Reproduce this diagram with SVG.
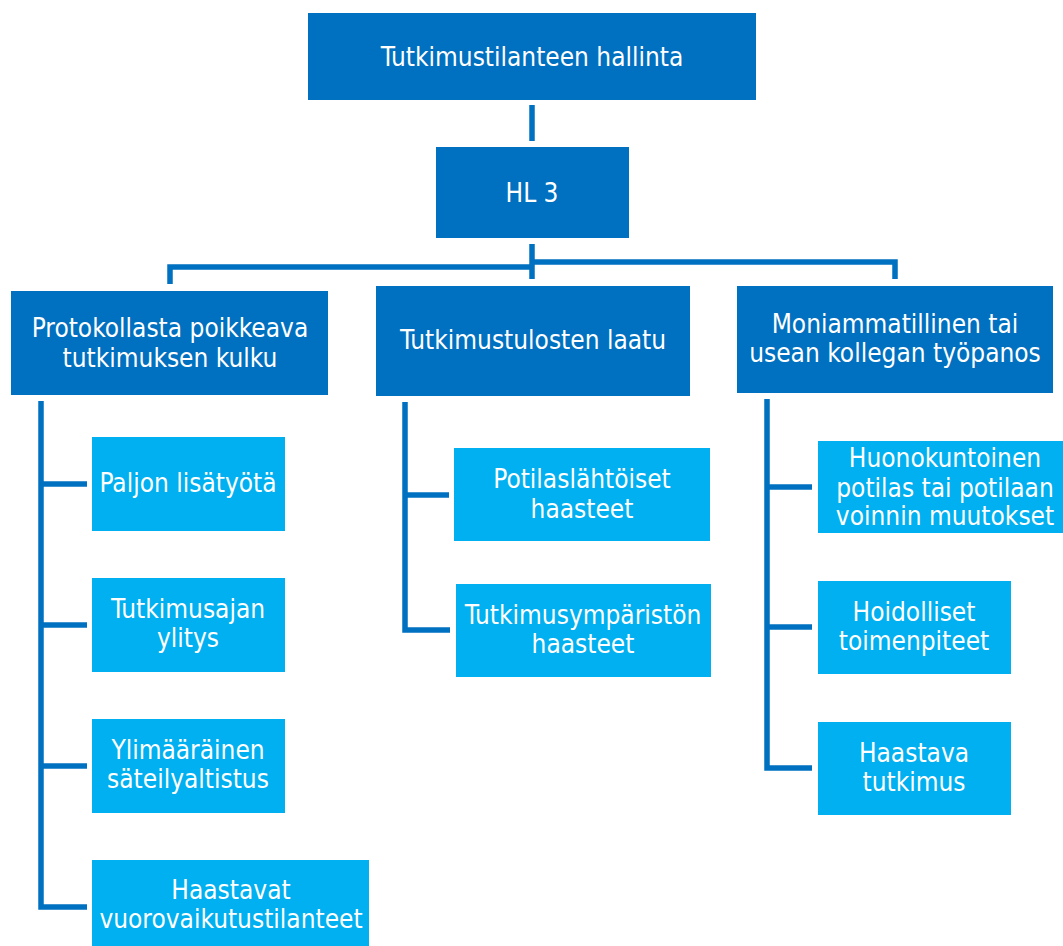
<svg xmlns="http://www.w3.org/2000/svg" width="1063" height="946" viewBox="0 0 1063 946">
  <style>
    .main rect { fill: #0070C0; }
    .sub rect { fill: #00B0F0; }
    text { font-family: "DejaVu Sans Condensed", "DejaVu Sans", sans-serif; font-size: 26px; fill: #FFFFFF; text-anchor: middle; }
    .conn { fill: none; stroke: #0070C0; stroke-width: 5.5; stroke-linejoin: miter; stroke-linecap: butt; }
  </style>
  <rect width="1063" height="946" fill="#FFFFFF"/>

  <!-- connectors -->
  <g id="connectors" class="conn">
    <line x1="532" y1="105" x2="532" y2="141"/>
    <line x1="532" y1="244" x2="532" y2="279"/>
    <polyline points="170,284 170,267 532,267"/>
    <polyline points="532,262 895,262 895,279"/>
    <polyline points="41,401 41,907 87,907"/>
    <line x1="41" y1="484" x2="87" y2="484"/>
    <line x1="41" y1="625" x2="87" y2="625"/>
    <line x1="41" y1="766" x2="87" y2="766"/>
    <polyline points="405,402 405,630 450,630"/>
    <line x1="405" y1="495" x2="449" y2="495"/>
    <polyline points="767,399 767,768 812,768"/>
    <line x1="767" y1="487" x2="812" y2="487"/>
    <line x1="767" y1="627" x2="812" y2="627"/>
  </g>

  <!-- top level -->
  <g id="root" class="main">
    <rect x="308" y="13" width="448" height="87"/>
    <text x="532" y="66">Tutkimustilanteen hallinta</text>
  </g>
  <g id="hl3" class="main">
    <rect x="436" y="147" width="193" height="91"/>
    <text x="532" y="202">HL 3</text>
  </g>

  <!-- categories -->
  <g id="protokolla" class="main">
    <rect x="11" y="291" width="317" height="104"/>
    <text x="170" y="337">Protokollasta poikkeava</text>
    <text x="170" y="367">tutkimuksen kulku</text>
  </g>
  <g id="laatu" class="main">
    <rect x="376" y="286" width="314" height="110"/>
    <text x="533" y="349">Tutkimustulosten laatu</text>
  </g>
  <g id="moniammatillinen" class="main">
    <rect x="737" y="286" width="316" height="107"/>
    <text x="895" y="333">Moniammatillinen tai</text>
    <text x="895" y="362">usean kollegan työpanos</text>
  </g>

  <!-- items under Protokollasta poikkeava tutkimuksen kulku -->
  <g id="lisatyo" class="sub">
    <rect x="92" y="437" width="193" height="94"/>
    <text x="188" y="492">Paljon lisätyötä</text>
  </g>
  <g id="tutkimusaika" class="sub">
    <rect x="92" y="578" width="193" height="94"/>
    <text x="188" y="618">Tutkimusajan</text>
    <text x="188" y="647">ylitys</text>
  </g>
  <g id="sateily" class="sub">
    <rect x="92" y="719" width="193" height="94"/>
    <text x="188" y="759">Ylimääräinen</text>
    <text x="188" y="788">säteilyaltistus</text>
  </g>
  <g id="vuorovaikutus" class="sub">
    <rect x="92" y="860" width="277" height="90"/>
    <text x="231" y="899">Haastavat</text>
    <text x="231" y="928">vuorovaikutustilanteet</text>
  </g>

  <!-- items under Tutkimustulosten laatu -->
  <g id="potilaslahtoiset" class="sub">
    <rect x="454" y="448" width="256" height="93"/>
    <text x="582" y="488">Potilaslähtöiset</text>
    <text x="582" y="518">haasteet</text>
  </g>
  <g id="ymparisto" class="sub">
    <rect x="456" y="584" width="255" height="93"/>
    <text x="583" y="624">Tutkimusympäristön</text>
    <text x="583" y="653">haasteet</text>
  </g>

  <!-- items under Moniammatillinen tai usean kollegan työpanos -->
  <g id="huonokuntoinen" class="sub">
    <rect x="818" y="441" width="255" height="92"/>
    <text x="945" y="467">Huonokuntoinen</text>
    <text x="945" y="497">potilas tai potilaan</text>
    <text x="945" y="525">voinnin muutokset</text>
  </g>
  <g id="hoidolliset" class="sub">
    <rect x="818" y="581" width="193" height="93"/>
    <text x="914" y="621">Hoidolliset</text>
    <text x="914" y="650">toimenpiteet</text>
  </g>
  <g id="haastava" class="sub">
    <rect x="818" y="722" width="193" height="93"/>
    <text x="914" y="762">Haastava</text>
    <text x="914" y="791">tutkimus</text>
  </g>
</svg>
